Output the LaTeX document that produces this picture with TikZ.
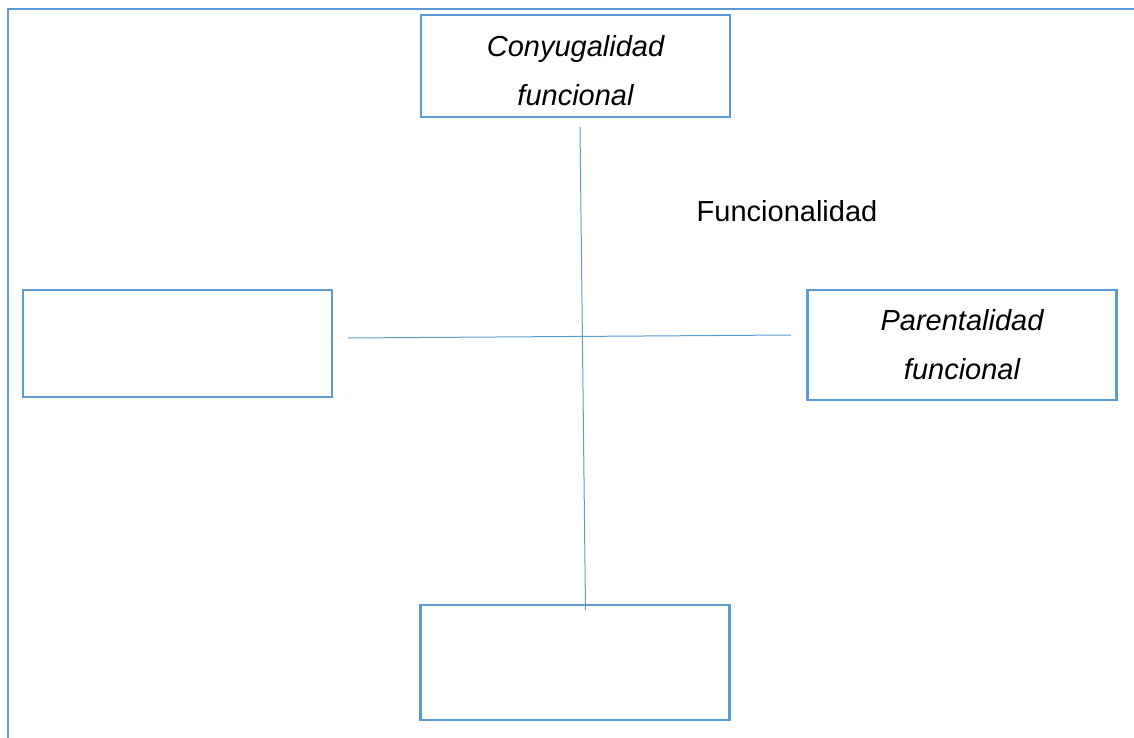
\documentclass[tikz,border=0pt]{standalone}
\usepackage{fontspec}
\setmainfont{Liberation Sans}
\definecolor{officeblue}{HTML}{5B9BD5}
\begin{document}
\begin{tikzpicture}[x=1pt,y=-1pt,
  box/.style={draw=officeblue,line width=2.8pt,minimum width=309pt,inner sep=0pt,align=center,
    font=\fontsize{29}{49}\selectfont\itshape},
  conn/.style={draw=officeblue,line width=1pt},
  frame/.style={draw=officeblue,line width=2.8pt}]
\useasboundingbox (0,0) rectangle (1134,738);
\draw[frame] (8,738) -- (8,9) -- (1134,9);
\node[box,minimum height=102pt] (top) at (575.5,66) {\rule{0pt}{31pt}Conyugalidad\\funcional};
\node[box,minimum height=107pt] (left) at (177.5,343.5) {};
\node[box,minimum height=110pt] (right) at (962,345) {Parentalidad\\funcional};
\node[box,minimum height=115pt] (bottom) at (575,662.5) {};
\node[font=\fontsize{29}{35}\selectfont] (lab) at (787,211) {Funcionalidad};
\coordinate (vtop) at (580,127);
\coordinate (vbot) at (585.5,610);
\coordinate (hleft) at (348,338);
\coordinate (hright) at (791,335);
\draw[conn] (vtop) -- (vbot);
\draw[conn] (hleft) -- (hright);
\end{tikzpicture}
\end{document}
